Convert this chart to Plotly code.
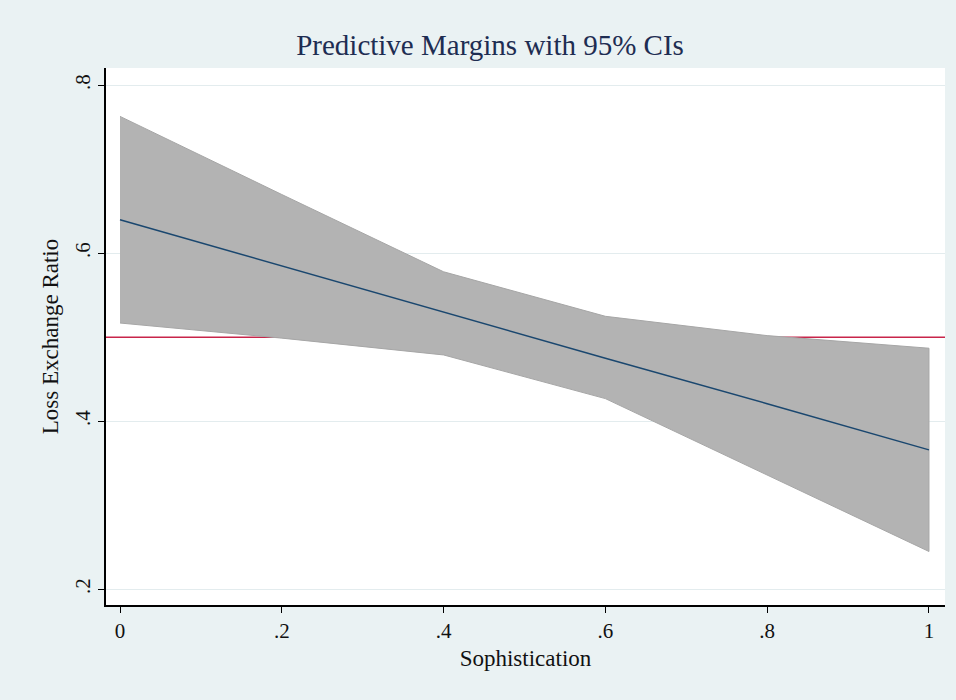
import plotly.graph_objects as go

sophistication = [0.0, 0.2, 0.4, 0.6, 0.8, 1.0]
margin_est = [0.640, 0.585, 0.530, 0.475, 0.421, 0.366]
ci_upper = [0.763, 0.670, 0.578, 0.525, 0.502, 0.487]
ci_lower = [0.517, 0.499, 0.479, 0.427, 0.336, 0.245]
ref_value = 0.5

x_ticks = [0, 0.2, 0.4, 0.6, 0.8, 1]
x_ticklabels = ["0", ".2", ".4", ".6", ".8", "1"]
y_ticks = [0.2, 0.4, 0.6, 0.8]
y_ticklabels = [".2", ".4", ".6", ".8"]

FONT = "Liberation Serif, Times New Roman, serif"
BG = "#EAF2F3"

fig = go.Figure()

# CI band
fig.add_trace(go.Scatter(
    x=sophistication + sophistication[::-1],
    y=ci_upper + ci_lower[::-1],
    fill="toself", fillcolor="#B3B3B3",
    line=dict(color="#A6A6A6", width=1),
    mode="lines", hoverinfo="skip", showlegend=False,
))
# point estimates
fig.add_trace(go.Scatter(
    x=sophistication, y=margin_est, mode="lines",
    line=dict(color="#1A476F", width=1.5), showlegend=False,
))

fig.add_shape(type="line", xref="paper", x0=0, x1=1, yref="y", y0=ref_value, y1=ref_value,
              line=dict(color="#C8254A", width=1.5), layer="below")

fig.update_layout(
    width=956, height=700,
    paper_bgcolor=BG, plot_bgcolor="white",
    margin=dict(l=106, r=11, t=68, b=95),
    font=dict(family=FONT, color="#111111", size=21),
    title=dict(text="Predictive Margins with 95% CIs", xref="container", x=0.5126,
               xanchor="center", yref="container", y=1 - 45 / 700, yanchor="middle",
               font=dict(family=FONT, size=29, color="#1E2D52")),
    showlegend=False,
)
fig.update_xaxes(
    range=[-0.0173, 1.0198], tickvals=x_ticks, ticktext=x_ticklabels,
    showgrid=False, zeroline=False, showline=True, linecolor="black", linewidth=1.5,
    ticks="outside", ticklen=6, tickcolor="black",
    title=dict(text="Sophistication", standoff=8, font=dict(size=23)),
    tickfont=dict(size=21),
)
fig.update_yaxes(
    range=[0.1813, 0.8206], tickvals=y_ticks, ticktext=y_ticklabels,
    showgrid=True, gridcolor="#E3ECEE", gridwidth=1, zeroline=False,
    showline=True, linecolor="black", linewidth=1.5,
    ticks="outside", ticklen=6, tickcolor="black", tickangle=-90,
    title=dict(text="Loss Exchange Ratio", standoff=6, font=dict(size=23)),
    tickfont=dict(size=21),
)

fig.write_html("out.html", config={"displayModeBar": False},
               post_script="document.body.style.margin='0px';")
